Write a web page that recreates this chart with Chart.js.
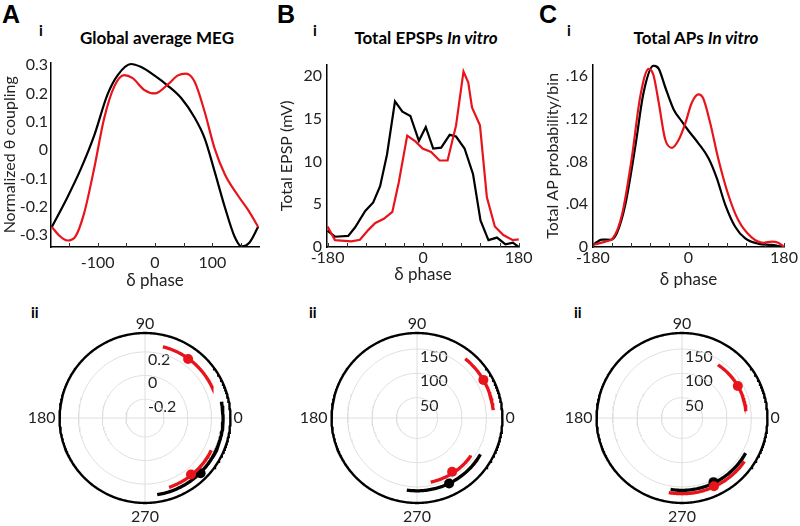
<!DOCTYPE html>
<html>
<head>
<meta charset="utf-8">
<script src="https://cdn.jsdelivr.net/npm/chart.js@4.4.0/dist/chart.umd.min.js"></script>
<style>
  body { margin: 0; width: 800px; height: 526px; overflow: hidden; background: #fff; position: relative; font-family: Lato, "Open Sans", sans-serif; color: #222; }
  canvas { position: absolute; }
  .txt { position: absolute; line-height: 1; white-space: nowrap; }
  .big { font-family: "Liberation Sans", Arial, sans-serif; font-weight: bold; font-size: 25px; color: #000; }
  .sub { font-weight: bold; font-size: 15px; color: #000; }
  .ttl { font-weight: bold; font-size: 17px; color: #000; transform: translateX(-50%); }
</style>
</head>
<body>

<div class="txt big" style="left:2px; top:2px;">A</div>
<div class="txt big" style="left:277px; top:2px;">B</div>
<div class="txt big" style="left:539px; top:2px;">C</div>

<div class="txt sub" style="left:39px; top:23px;">i</div>
<div class="txt sub" style="left:313px; top:23px;">i</div>
<div class="txt sub" style="left:567px; top:23px;">i</div>
<div class="txt sub" style="left:31px; top:305px;">ii</div>
<div class="txt sub" style="left:309px; top:305px;">ii</div>
<div class="txt sub" style="left:574px; top:305px;">ii</div>

<div class="txt ttl" style="left:157px; top:29px;">Global average MEG</div>
<div class="txt ttl" style="left:426px; top:29px;">Total EPSPs <i>In vitro</i></div>
<div class="txt ttl" style="left:696px; top:29px;">Total APs <i>In vitro</i></div>

<canvas id="megChart" width="270" height="245" style="left:0px; top:50px;"></canvas>
<canvas id="epspChart" width="270" height="245" style="left:277px; top:50px;"></canvas>
<canvas id="apChart" width="257" height="245" style="left:543px; top:50px;"></canvas>

<canvas id="megPolar" width="250" height="220" style="left:20px; top:308px;"></canvas>
<canvas id="epspPolar" width="250" height="220" style="left:292px; top:308px;"></canvas>
<canvas id="apPolar" width="250" height="220" style="left:557px; top:308px;"></canvas>

<script>
// ---- top row data (delta phase in degrees) ----
// A i: global average MEG, normalized theta coupling
var megPhaseBlack = [-180, -153, -130, -106, -83, -65, -42, -25, 0, 22, 46, 69, 87, 104, 122, 139, 151, 165, 180];
var megBlack = [-0.271, -0.167, -0.069, 0.052, 0.196, 0.265, 0.304, 0.294, 0.262, 0.228, 0.183, 0.115, 0.04, -0.075, -0.202, -0.306, -0.340, -0.326, -0.271];
var megPhaseRed = [-180, -168, -153, -139, -124, -106, -89, -71, -54, -39, -19, 0, 22, 40, 54, 69, 87, 104, 122, 145, 163, 180];
var megRed = [-0.271, -0.30, -0.319, -0.305, -0.225, -0.063, 0.110, 0.225, 0.265, 0.254, 0.213, 0.200, 0.231, 0.264, 0.270, 0.242, 0.133, 0.006, -0.086, -0.161, -0.213, -0.271];

// B i: total EPSPs in vitro (mV)
var epspPhaseBlack = [-180, -166, -141, -128, -109, -94, -81, -68, -53, -39, -24, -8, 5, 19, 34, 50, 62, 78, 94, 108, 123, 139, 155, 169, 180];
var epspBlack = [1.9, 1.2, 1.3, 2.3, 4.2, 5.2, 7.1, 10.8, 17.0, 15.8, 15.3, 12.4, 14.0, 11.5, 11.6, 13.1, 12.9, 11.5, 8.5, 3.1, 0.8, 1.1, 0.3, 0.5, 0.0];
var epspPhaseRed = [-180, -166, -135, -119, -103, -90, -74, -58, -46, -30, -14, -1, 15, 31, 46, 62, 76, 85, 92, 107, 120, 135, 151, 169, 180];
var epspRed = [2.4, 0.8, 0.65, 0.85, 2.0, 2.8, 3.3, 4.1, 7.5, 13.0, 12.3, 11.5, 11.1, 10.1, 10.1, 14.2, 20.5, 19.2, 16.3, 14.2, 5.8, 2.4, 1.4, 0.8, 0.9];

// C i: total APs in vitro (probability per bin)
var apPhaseBlack = [-180, -163, -147, -135, -119, -100, -85, -66, -56, -44, -28, -13, 0, 19, 38, 53, 69, 88, 107, 132, 157, 180];
var apBlack = [0.002, 0.007, 0.0067, 0.013, 0.040, 0.095, 0.144, 0.170, 0.167, 0.150, 0.129, 0.118, 0.109, 0.097, 0.083, 0.065, 0.040, 0.019, 0.008, 0.003, 0.002, 0.0];
var apPhaseRed = [-180, -157, -143, -125, -107, -91, -75, -66, -56, -44, -31, -19, -6, 6, 19, 28, 41, 56, 75, 94, 119, 141, 157, 169, 180];
var apRed = [0.002, 0.005, 0.008, 0.031, 0.083, 0.141, 0.167, 0.161, 0.135, 0.101, 0.093, 0.100, 0.116, 0.135, 0.143, 0.139, 0.116, 0.083, 0.049, 0.025, 0.009, 0.004, 0.005, 0.004, 0.0];

// tick values
var megXTicks = [-150, -100, -50, 0, 50, 100, 150];
var megXLabels = [-100, 0, 100];
var megYTicks = [-0.3, -0.2, -0.1, 0, 0.1, 0.2, 0.3];
var cellXTicks = [-180, -144, -108, -72, -36, 0, 36, 72, 108, 144, 180];
var cellXLabels = [-180, 0, 180];
var epspYTicks = [0, 5, 10, 15, 20];
var apYTicks = [0, 0.04, 0.08, 0.12, 0.16];

// ---- bottom row data: [angle deg, radius value] ----
var megRings = [-0.2, 0, 0.2];
var megRange = [-0.36, 0.36];
var megBlackArcs = [[12, -81, 0.298]];
var megBlackMeans = [[-45, 0.303]];
var megRedArcs = [[76, 24, 0.262], [-26, -71, 0.262]];
var megRedMeans = [[54, 0.258], [-51, 0.256]];

var cellRings = [50, 100, 150];
var cellRange = [8, 183];
var epspBlackArcs = [[-30, -98, 158]];
var epspBlackMeans = [[-64, 158]];
var epspRedArcs = [[51, 6, 165], [-35, -78, 143]];
var epspRedMeans = [[30, 165], [-57, 140]];

var apBlackArcs = [[-29, -99, 157]];
var apBlackMeans = [[-64, 155]];
var apRedArcs = [[56, 6, 140], [-35, -100, 164]];
var apRedMeans = [[30, 140], [-65, 163]];

Chart.defaults.font.family = 'Lato, "Open Sans", sans-serif';
Chart.defaults.color = '#222';

var RED = '#e8141c';

function pairs(xs, ys) {
  return xs.map(function (x, i) { return { x: x, y: ys[i] }; });
}

function fixedTicks(vals) {
  return function (scale) {
    scale.ticks = vals.map(function (v) { return { value: v }; });
  };
}

// small tick marks pointing into the plot
var inwardTicks = {
  id: 'inwardTicks',
  afterDraw: function (chart) {
    var sx = chart.scales.x, ctx = chart.ctx, b = chart.chartArea.bottom;
    ctx.save();
    ctx.strokeStyle = '#333';
    ctx.lineWidth = 1;
    sx.ticks.forEach(function (t) {
      var px = Math.round(sx.getPixelForValue(t.value)) + 0.5;
      ctx.beginPath();
      ctx.moveTo(px, b);
      ctx.lineTo(px, b - 4);
      ctx.stroke();
    });
    ctx.restore();
  }
};

function topChart(id, o) {
  return new Chart(document.getElementById(id), {
    type: 'scatter',
    data: {
      datasets: [
        { data: pairs(o.px1, o.black), borderColor: '#000', borderWidth: 2.2, showLine: true, pointRadius: 0,
          cubicInterpolationMode: o.smooth ? 'monotone' : 'default', order: 2 },
        { data: pairs(o.px2, o.red), borderColor: RED, borderWidth: 2.2, showLine: true, pointRadius: 0,
          cubicInterpolationMode: o.smooth ? 'monotone' : 'default', order: 1 }
      ]
    },
    options: {
      responsive: false,
      animation: false,
      layout: { padding: o.pad },
      plugins: { legend: { display: false }, tooltip: { enabled: false } },
      scales: {
        x: {
          type: 'linear', min: o.xMin, max: o.xMax,
          afterBuildTicks: fixedTicks(o.xTicks),
          afterFit: function (s) { s.height = o.xH; },
          grid: { display: false, drawTicks: false },
          border: { color: '#000', width: 1.5 },
          ticks: {
            autoSkip: false, maxRotation: 0, padding: o.xTickPad, font: { size: 16 },
            callback: function (v) { return o.xLabels.indexOf(v) >= 0 ? String(v) : ''; }
          },
          title: { display: true, text: 'δ phase', font: { size: 17 }, padding: { top: 0, bottom: o.xTitlePad } }
        },
        y: {
          min: o.yMin, max: o.yMax,
          afterBuildTicks: fixedTicks(o.yTicks),
          afterFit: function (s) { s.width = o.yW; },
          grid: { display: false, drawTicks: false },
          border: { color: '#000', width: 1.5 },
          ticks: { padding: o.yTickPad, font: { size: 16 }, callback: o.yFmt },
          title: { display: true, text: o.yTitle, font: { size: 16 }, padding: { top: 0, bottom: 0 } }
        }
      }
    },
    plugins: [inwardTicks]
  });
}

topChart('megChart', {
  px1: megPhaseBlack, black: megBlack, px2: megPhaseRed, red: megRed, smooth: true,
  xMin: -181.5, xMax: 181.5, xTicks: megXTicks, xLabels: megXLabels,
  yMin: -0.342, yMax: 0.309, yTicks: megYTicks,
  yFmt: function (v) { return Math.abs(v) < 1e-9 ? '0' : v.toFixed(1); },
  yTitle: 'Normalized θ coupling',
  pad: { top: 9, right: 11, left: 0, bottom: 0 }, xH: 48, yW: 51,
  xTickPad: 6, yTickPad: 3, xTitlePad: 4
});

topChart('epspChart', {
  px1: epspPhaseBlack, black: epspBlack, px2: epspPhaseRed, red: epspRed, smooth: false,
  xMin: -181, xMax: 180.5, xTicks: cellXTicks, xLabels: cellXLabels,
  yMin: 0, yMax: 21.3, yTicks: epspYTicks,
  yFmt: function (v) { return String(v); },
  yTitle: 'Total EPSP (mV)',
  pad: { top: 12, right: 28, left: 0, bottom: 0 }, xH: 48, yW: 50,
  xTickPad: 1, yTickPad: 5, xTitlePad: 10
});

topChart('apChart', {
  px1: apPhaseBlack, black: apBlack, px2: apPhaseRed, red: apRed, smooth: true,
  xMin: -180, xMax: 180, xTicks: cellXTicks, xLabels: cellXLabels,
  yMin: 0, yMax: 0.171, yTicks: apYTicks,
  yFmt: function (v) { return v === 0 ? '0' : v.toFixed(2).replace(/^0/, ''); },
  yTitle: 'Total AP probability/bin',
  pad: { top: 12, right: 16, left: 0, bottom: 0 }, xH: 48, yW: 50,
  xTickPad: 1, yTickPad: 5, xTitlePad: 5
});

// ---- polar plots drawn on a square linear x/y frame ----
var OUTER = 89; // outer circle radius in px
var CW = 250, CH = 220;

function xy(angle, n) {
  var a = angle * Math.PI / 180;
  return { x: n * Math.cos(a), y: n * Math.sin(a) };
}

function norm(v, rng) {
  return (v - rng[0]) / (rng[1] - rng[0]);
}

function arc(from, to, n, step) {
  var pts = [], s = from < to ? step : -step;
  for (var a = from; s > 0 ? a <= to : a >= to; a += s) pts.push(xy(a, n));
  if (pts.length && (pts[pts.length - 1].x !== xy(to, n).x)) pts.push(xy(to, n));
  return pts;
}

var polarText = {
  id: 'polarText',
  beforeDatasetsDraw: function (chart, args, opts) {
    var sx = chart.scales.x, sy = chart.scales.y, ctx = chart.ctx;
    var cx = sx.getPixelForValue(0), cy = sy.getPixelForValue(0);
    var R = sx.getPixelForValue(1) - cx;
    ctx.save();
    ctx.fillStyle = '#222';
    ctx.font = '16px Lato, "Open Sans", sans-serif';
    ctx.textBaseline = 'middle';
    ctx.textAlign = 'center';
    ctx.fillText('90', cx, cy - R - 9);
    ctx.fillText('270', cx, cy + R + 13);
    ctx.textAlign = 'right';
    ctx.fillText('180', cx - R - 4, cy);
    ctx.textAlign = 'left';
    ctx.fillText('0', cx + R + 3, cy);
    opts.radii.forEach(function (n, i) {
      ctx.fillText(opts.labels[i], cx + 3, cy - n * R + 8);
    });
    ctx.restore();
  }
};

function polarChart(id, rings, rng, blackArcs, blackMeans, redArcs, redMeans) {
  var ds = [];
  // grid rings and cross lines
  rings.forEach(function (r) {
    ds.push({ data: arc(0, 360, norm(r, rng), 2), borderColor: '#dedede', borderWidth: 1, order: 10 });
  });
  ds.push({ data: [xy(180, 1), xy(0, 1)], borderColor: '#dedede', borderWidth: 1, order: 10 });
  ds.push({ data: [xy(270, 1), xy(90, 1)], borderColor: '#dedede', borderWidth: 1, order: 10 });
  ds.push({ data: arc(0, 360, 1, 1), borderColor: '#000', borderWidth: 2.4, order: 9 });
  blackArcs.forEach(function (a) {
    ds.push({ data: arc(a[0], a[1], norm(a[2], rng), 1), borderColor: '#000', borderWidth: 3.3, order: 4 });
  });
  ds.push({ data: blackMeans.map(function (m) { return xy(m[0], norm(m[1], rng)); }), showLine: false,
    pointRadius: 5, backgroundColor: '#000', borderWidth: 0, order: 3 });
  redArcs.forEach(function (a) {
    ds.push({ data: arc(a[0], a[1], norm(a[2], rng), 1), borderColor: RED, borderWidth: 3.3, order: 2 });
  });
  ds.push({ data: redMeans.map(function (m) { return xy(m[0], norm(m[1], rng)); }), showLine: false,
    pointRadius: 5, backgroundColor: RED, borderWidth: 0, order: 1 });
  ds.forEach(function (d) {
    if (d.showLine === undefined) { d.showLine = true; d.pointRadius = 0; }
  });

  return new Chart(document.getElementById(id), {
    type: 'scatter',
    data: { datasets: ds },
    options: {
      responsive: false,
      animation: false,
      layout: { padding: 0 },
      plugins: {
        legend: { display: false }, tooltip: { enabled: false },
        polarText: { radii: rings.map(function (r) { return norm(r, rng); }), labels: rings.map(String) }
      },
      scales: {
        x: { display: false, min: -CW / 2 / OUTER, max: CW / 2 / OUTER },
        y: { display: false, min: -CH / 2 / OUTER, max: CH / 2 / OUTER }
      }
    },
    plugins: [polarText]
  });
}

polarChart('megPolar', megRings, megRange, megBlackArcs, megBlackMeans, megRedArcs, megRedMeans);
polarChart('epspPolar', cellRings, cellRange, epspBlackArcs, epspBlackMeans, epspRedArcs, epspRedMeans);
polarChart('apPolar', cellRings, cellRange, apBlackArcs, apBlackMeans, apRedArcs, apRedMeans);
</script>
</body>
</html>
